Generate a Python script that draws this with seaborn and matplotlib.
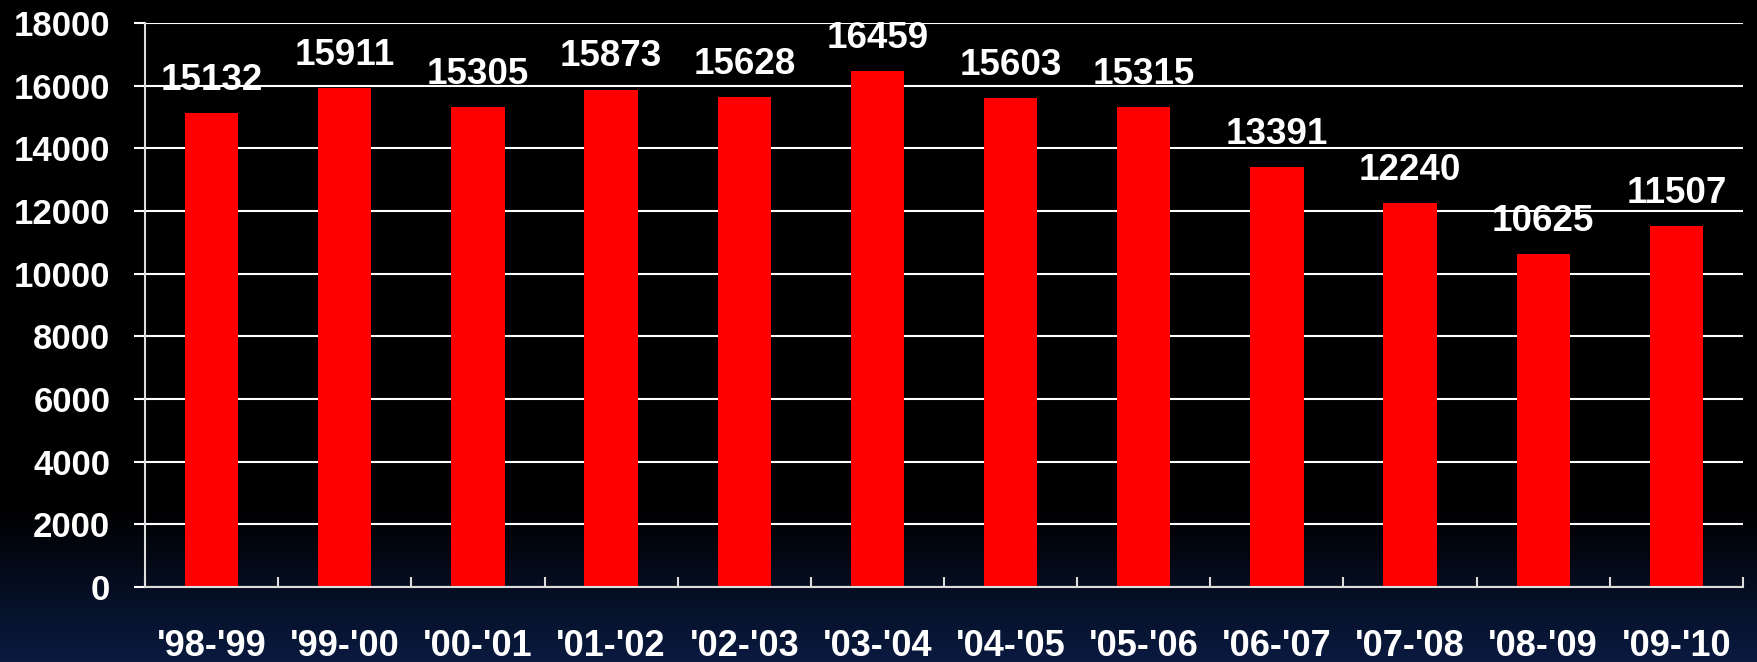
import numpy as np
import pandas as pd
import matplotlib
matplotlib.use("Agg")
import matplotlib.pyplot as plt
import seaborn as sns
from matplotlib.colors import LinearSegmentedColormap

seasons = ["'98-'99", "'99-'00", "'00-'01", "'01-'02", "'02-'03", "'03-'04",
           "'04-'05", "'05-'06", "'06-'07", "'07-'08", "'08-'09", "'09-'10"]
values = [15132, 15911, 15305, 15873, 15628, 16459,
          15603, 15315, 13391, 12240, 10625, 11507]
yticks = [0, 2000, 4000, 6000, 8000, 10000, 12000, 14000, 16000, 18000]

df = pd.DataFrame({"season": seasons, "value": values})

sns.set_theme(style="white")
plt.rcParams['font.family'] = ['Liberation Sans', 'DejaVu Sans']
plt.rcParams['font.weight'] = 'bold'

fig = plt.figure(figsize=(17.57, 6.62), dpi=100)
fig.patch.set_facecolor('black')

# background gradient
bg = fig.add_axes([0, 0, 1, 1], zorder=-10)
bg.axis('off')
h = 662
yy = np.linspace(0, 1, h)  # 0 top -> 1 bottom
start = 510 / 662
t = np.clip((yy - start) / (1 - start), 0, 1)
cmap = LinearSegmentedColormap.from_list("bgc", ["#000000", "#0a1a40"])
bg.imshow(t.reshape(-1, 1), aspect='auto', cmap=cmap, vmin=0, vmax=1,
          extent=[0, 1, 0, 1])

ax = fig.add_axes([145 / 1757, 1 - 587 / 662, (1743 - 145) / 1757, (587 - 23) / 662])
ax.patch.set_alpha(0)

sns.barplot(data=df, x="season", y="value", color="#ff0000", saturation=1,
            width=0.4, ax=ax, zorder=3, edgecolor='none')

ax.set_ylim(0, 18000)
ax.set_xlim(-0.5, len(seasons) - 0.5)
ax.set_yticks(yticks)
ax.set_yticklabels([str(v) for v in yticks])
ax.set_xlabel("")
ax.set_ylabel("")

ax.grid(axis='y', color='white', linewidth=1.5, zorder=0)
ax.set_axisbelow(True)
for s in ['top', 'right']:
    ax.spines[s].set_visible(False)
for s in ['left', 'bottom']:
    ax.spines[s].set_color('#dddddd')
    ax.spines[s].set_linewidth(1.5)
    ax.spines[s].set_zorder(4)

ax.tick_params(axis='y', colors='white', labelsize=25, length=8, width=1.5,
               direction='out', pad=17, left=True, color='white')
ax.tick_params(axis='x', which='major', colors='white', labelsize=26,
               length=0, pad=30)
ax.set_xticks(np.arange(-0.5, len(seasons), 1.0), minor=True)
ax.tick_params(axis='x', which='minor', bottom=True, direction='in',
               length=7.5, width=1.5, color='#dddddd')
for lab in ax.get_xticklabels() + ax.get_yticklabels():
    lab.set_fontweight('bold')
    lab.set_color('white')

for i, v in enumerate(values):
    ax.annotate(str(v), (i, v), xytext=(0, 11), textcoords='offset points',
                ha='center', va='bottom', color='white', fontsize=26.5,
                fontweight='bold')

fig.savefig("out.png", dpi=100, facecolor=fig.get_facecolor())
